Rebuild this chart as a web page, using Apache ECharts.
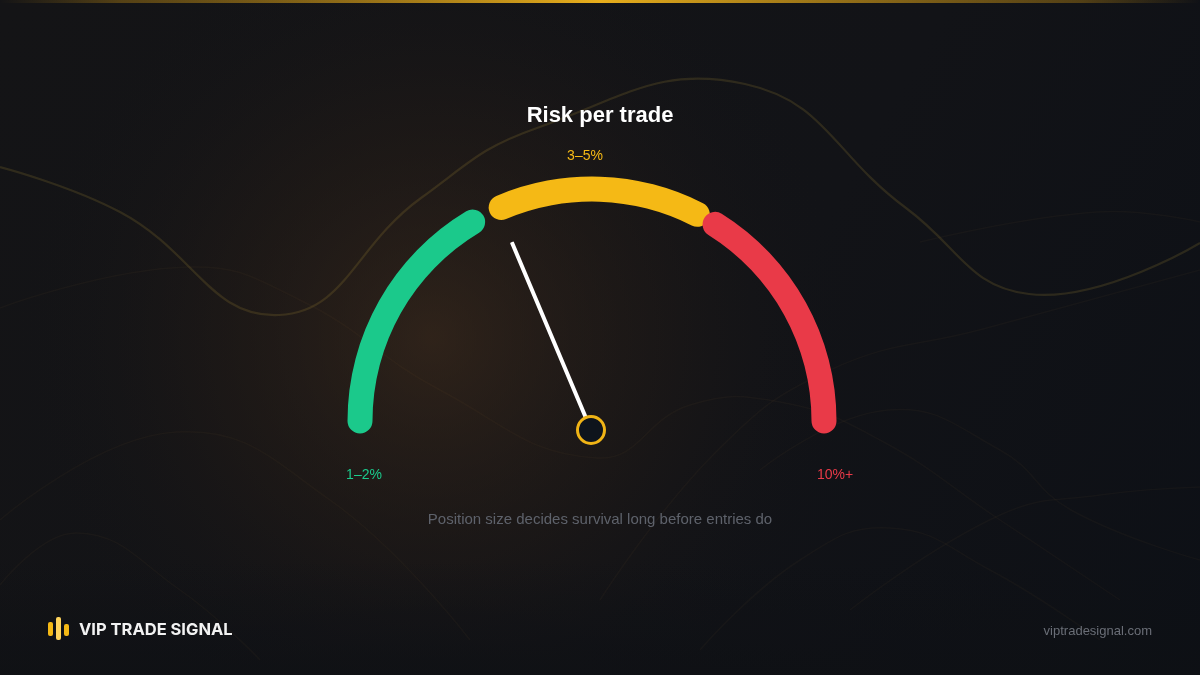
<!DOCTYPE html>
<html>
<head>
<meta charset="utf-8">
<script src="https://cdn.jsdelivr.net/npm/echarts@6/dist/echarts.min.js"></script>
<style>
  html, body { margin: 0; padding: 0; background: #121316; }
  #gauge { width: 1200px; height: 675px; }
</style>
</head>
<body>
<div id="gauge"></div>
<script>
// 风险区间 (gauge scale 0-100 spread over 180 degrees)
var bandLabels = ['1–2%', '3–5%', '10%+'];
var bandFrom = [0, 37.2, 67.8];
var bandTo = [32.8, 65, 100];
var bandColors = ['#1BC98B', '#F5B915', '#E93A48'];
var needleValue = 37.3;

var titleText = 'Risk per trade';
var subText = 'Position size decides survival long before entries do';

// label offsets from gauge centre (px)
var labelOffsets = [[-228, 54], [-7, -265], [243, 54]];

var chart = echarts.init(document.getElementById('gauge'));

function angleOf(v) {
    return 180 - v * 1.8;
}

var series = [];
for (var i = 0; i < bandLabels.length; i++) {
    series.push({
        type: 'gauge',
        center: [592, 421],
        radius: 244.5,
        startAngle: angleOf(bandFrom[i]),
        endAngle: angleOf(bandTo[i]),
        min: bandFrom[i],
        max: bandTo[i],
        axisLine: {
            roundCap: true,
            lineStyle: { width: 25, color: [[1, bandColors[i]]] }
        },
        pointer: { show: false },
        anchor: { show: false },
        axisTick: { show: false },
        splitLine: { show: false },
        axisLabel: { show: false },
        detail: { show: false },
        title: {
            offsetCenter: labelOffsets[i],
            color: bandColors[i],
            fontSize: 14,
            fontFamily: 'Liberation Sans, Arial, sans-serif'
        },
        data: [{ value: bandTo[i], name: bandLabels[i] }]
    });
}

// 指针
series.push({
    type: 'gauge',
    center: [591, 430],
    radius: 232,
    startAngle: 180,
    endAngle: 0,
    min: 0,
    max: 100,
    axisLine: { show: false },
    axisTick: { show: false },
    splitLine: { show: false },
    axisLabel: { show: false },
    detail: { show: false },
    title: { show: false },
    pointer: {
        icon: 'roundRect',
        length: 204,
        width: 4,
        itemStyle: { color: '#FFFFFF' }
    },
    anchor: {
        show: true,
        showAbove: true,
        size: 27,
        itemStyle: { color: '#0E141C', borderColor: '#F0B416', borderWidth: 3 }
    },
    data: [{ value: needleValue }]
});

// 背景波浪线
var waveMain = [[0, 167], [120, 212], [279, 315], [421, 198], [537, 128], [745, 84],
    [906, 208], [1029, 294], [1200, 243]];
var waveFaint = [
    [[0, 520], [176, 432], [330, 500], [470, 640]],
    [[0, 308], [188, 267], [300, 300], [440, 390], [597, 458], [690, 405], [780, 402], [880, 440], [1000, 520], [1120, 600]],
    [[0, 585], [77, 533], [180, 590], [260, 660]],
    [[600, 600], [715, 453], [830, 370], [983, 329], [1200, 270]],
    [[920, 242], [1097, 212], [1200, 222]],
    [[700, 650], [800, 560], [890, 528], [990, 570], [1100, 640]],
    [[760, 470], [888, 410], [1000, 450], [1071, 510], [1200, 560]],
    [[850, 610], [1000, 515], [1100, 495], [1200, 487]]
];

var graphics = [
    {
        type: 'rect', z: 0, silent: true,
        shape: { x: 0, y: 0, width: 1200, height: 675 },
        style: {
            fill: new echarts.graphic.LinearGradient(0, 0, 1, 1, [
                { offset: 0, color: '#141416' },
                { offset: 0.6, color: '#121317' },
                { offset: 1, color: '#0D1016' }
            ])
        }
    },
    {
        type: 'rect', z: 0, silent: true,
        shape: { x: 0, y: 0, width: 1200, height: 675 },
        style: {
            fill: new echarts.graphic.RadialGradient(0.36, 0.5, 0.62, [
                { offset: 0, color: 'rgba(66,45,28,0.6)' },
                { offset: 0.55, color: 'rgba(45,32,22,0.28)' },
                { offset: 1, color: 'rgba(20,20,22,0)' }
            ])
        }
    },
    {
        type: 'rect', z: 0, silent: true,
        shape: { x: 0, y: 560, width: 1200, height: 115 },
        style: {
            fill: new echarts.graphic.LinearGradient(0, 0, 0, 1, [
                { offset: 0, color: 'rgba(14,16,20,0)' },
                { offset: 1, color: 'rgba(14,16,20,0.7)' }
            ])
        }
    },
    {
        type: 'polyline', z: 1, silent: true,
        shape: { points: waveMain, smooth: 0.45 },
        style: { stroke: 'rgba(190,160,60,0.17)', lineWidth: 2.2, fill: null }
    },
    {
        type: 'rect', z: 5, silent: true,
        shape: { x: 0, y: 0, width: 1200, height: 3 },
        style: {
            fill: new echarts.graphic.LinearGradient(0, 0, 1, 0, [
                { offset: 0, color: 'rgba(150,110,20,0)' },
                { offset: 0.1, color: 'rgba(150,110,20,0.5)' },
                { offset: 0.5, color: '#E8AE1C' },
                { offset: 0.9, color: 'rgba(150,110,20,0.5)' },
                { offset: 1, color: 'rgba(150,110,20,0)' }
            ])
        }
    },
    // logo
    { type: 'rect', z: 5, shape: { x: 48, y: 622, width: 5, height: 14, r: 2 }, style: { fill: '#F5B915' } },
    { type: 'rect', z: 5, shape: { x: 56, y: 617, width: 5, height: 23, r: 2 }, style: { fill: '#FFD45C' } },
    { type: 'rect', z: 5, shape: { x: 64, y: 624, width: 5, height: 12, r: 2 }, style: { fill: '#F5B915' } },
    {
        type: 'text', z: 5, x: 79, y: 630,
        style: {
            text: 'VIP TRADE SIGNAL',
            fill: '#F2F2F2',
            font: 'bold 16.5px Inter, "Liberation Sans", sans-serif',
            verticalAlign: 'middle'
        }
    },
    {
        type: 'text', z: 5, x: 1152, y: 631,
        style: {
            text: 'viptradesignal.com',
            fill: '#6A6E77',
            font: '13px "Liberation Sans", Arial, sans-serif',
            align: 'right',
            verticalAlign: 'middle'
        }
    }
];

for (var k = 0; k < waveFaint.length; k++) {
    graphics.push({
        type: 'polyline', z: 1, silent: true,
        shape: { points: waveFaint[k], smooth: 0.45 },
        style: { stroke: 'rgba(180,150,80,0.045)', lineWidth: 1.5, fill: null }
    });
}

var option = {
    backgroundColor: '#121316',
    animation: false,
    title: [
        {
            text: titleText,
            left: 'center',
            top: 100,
            textStyle: { color: '#FFFFFF', fontSize: 22, fontWeight: 'bold', fontFamily: 'Liberation Sans, Arial, sans-serif' }
        },
        {
            text: subText,
            left: 'center',
            top: 507,
            textStyle: { color: '#5E626B', fontSize: 15, fontWeight: 'normal', fontFamily: 'Liberation Sans, Arial, sans-serif' }
        }
    ],
    graphic: graphics,
    series: series
};

chart.setOption(option);
</script>
</body>
</html>
